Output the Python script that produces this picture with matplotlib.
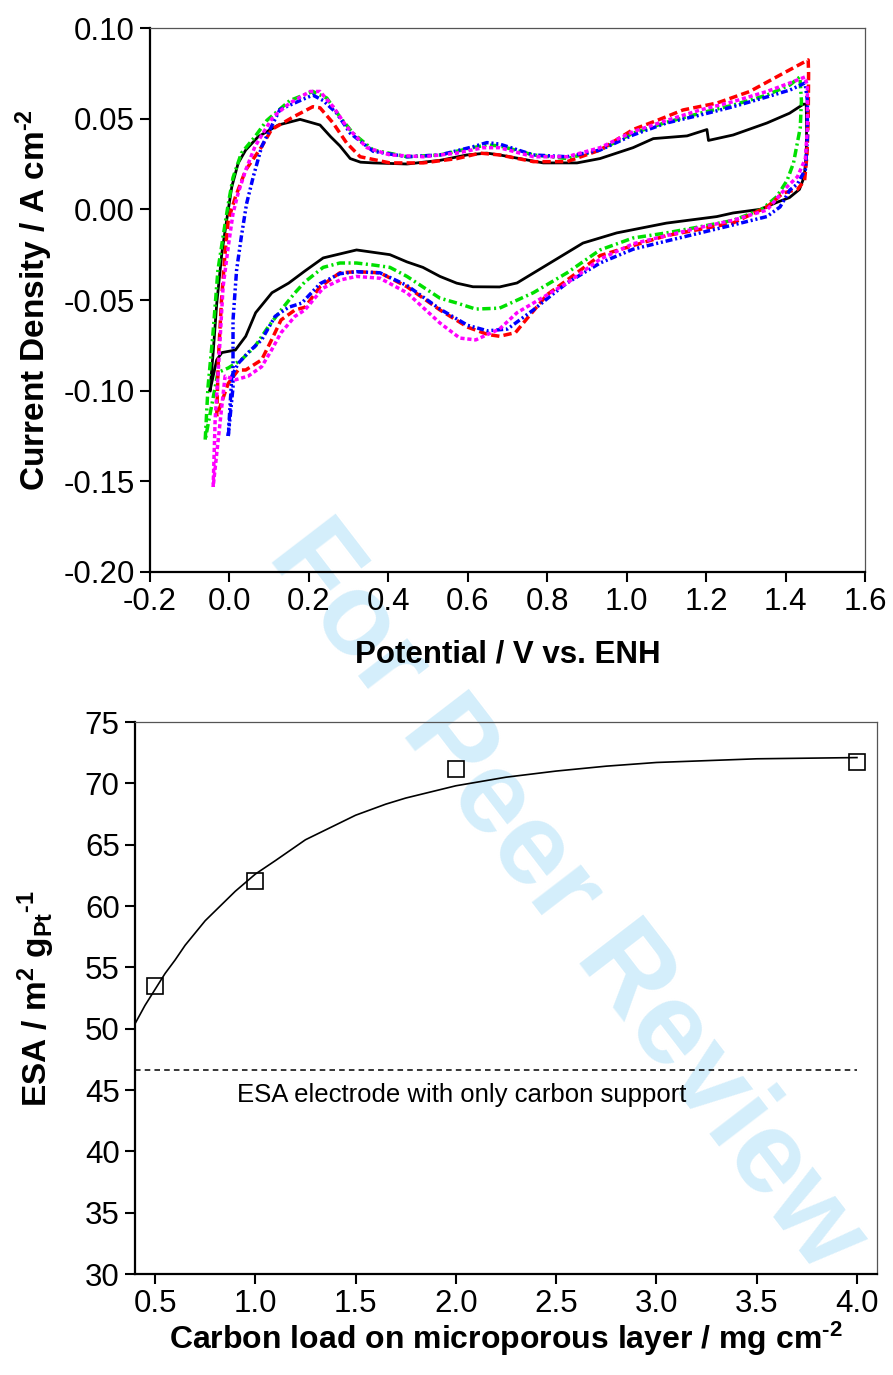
import numpy as np
import matplotlib
matplotlib.use("Agg")
import matplotlib.pyplot as plt

plt.rcParams['font.family'] = ['Liberation Sans', 'DejaVu Sans']
plt.rcParams['mathtext.fontset'] = 'custom'
plt.rcParams['mathtext.rm'] = 'Liberation Sans'
plt.rcParams['mathtext.bf'] = 'Liberation Sans:bold'
plt.rcParams['mathtext.it'] = 'Liberation Sans:italic'
plt.rcParams['lines.scale_dashes'] = False

# ---- CV curves (potential V, current density A cm-2) ----
black_x = [-0.049, -0.041, -0.032, -0.019, -0.007, 0.006, 0.022, 0.041, 0.072, 0.123, 0.178, 0.228, 0.255,
           0.278, 0.304, 0.33, 0.362, 0.447, 0.53, 0.598, 0.648, 0.68, 0.79, 0.875, 0.933, 1.016, 1.067,
           1.152, 1.202, 1.206, 1.268, 1.353, 1.41, 1.445,
           1.452, 1.453, 1.452, 1.447, 1.435, 1.41, 1.38, 1.336, 1.268, 1.227, 1.10, 0.975, 0.89, 0.807,
           0.724, 0.68, 0.613, 0.572, 0.53, 0.487, 0.447, 0.404, 0.32, 0.236, 0.19, 0.149, 0.107, 0.066,
           0.041, 0.015, -0.019, -0.032, -0.049]
black_y = [-0.100, -0.079, -0.052, -0.024, -0.006, 0.0125, 0.0255, 0.0327, 0.040, 0.0465, 0.0496, 0.0465, 0.040,
           0.035, 0.028, 0.026, 0.0256, 0.025, 0.027, 0.030, 0.031, 0.030, 0.0256, 0.0256, 0.028, 0.034, 0.039,
           0.0405, 0.044, 0.038, 0.041, 0.0476, 0.053, 0.058,
           0.058, 0.045, 0.030, 0.018, 0.011, 0.0065, 0.004, 0.0, -0.002, -0.004, -0.0076, -0.013, -0.0186,
           -0.0296, -0.0406, -0.0428, -0.0427, -0.0407, -0.037, -0.032, -0.029, -0.025, -0.0224, -0.0268,
           -0.034, -0.0407, -0.046, -0.057, -0.070, -0.0776, -0.079, -0.083, -0.100]

red_x = [-0.032, -0.028, -0.020, -0.011, -0.003, 0.015, 0.041, 0.081, 0.106, 0.161, 0.21, 0.228, 0.261, 0.295,
         0.329, 0.404, 0.488, 0.573, 0.631, 0.68, 0.765, 0.85, 0.933, 1.016, 1.076, 1.142, 1.227, 1.31, 1.394,
         1.457,
         1.458, 1.457, 1.454, 1.448, 1.43, 1.394, 1.353, 1.268, 1.185, 1.10, 1.016, 0.933, 0.85, 0.80, 0.75,
         0.72, 0.68, 0.65, 0.60, 0.53, 0.447, 0.379, 0.32, 0.278, 0.228, 0.19, 0.165, 0.13, 0.106, 0.081,
         0.041, 0.022, -0.003, -0.032]
red_y = [-0.114, -0.083, -0.050, -0.024, -0.006, 0.0068, 0.0217, 0.0345, 0.044, 0.051, 0.0566, 0.056, 0.0476,
         0.0366, 0.029, 0.0256, 0.0256, 0.028, 0.031, 0.030, 0.0263, 0.0263, 0.0327, 0.044, 0.049, 0.0548,
         0.0586, 0.065, 0.075, 0.0824,
         0.075, 0.050, 0.030, 0.016, 0.011, 0.009, 0.0013, -0.0075, -0.011, -0.0145, -0.020, -0.0255, -0.039,
         -0.047, -0.060, -0.068, -0.070, -0.069, -0.065, -0.0555, -0.0427, -0.035, -0.0344, -0.035, -0.0427,
         -0.054, -0.0555, -0.061, -0.072, -0.083, -0.0886, -0.0886, -0.096, -0.114]

blue_x = [-0.003, 0.009, 0.009, 0.018, 0.03, 0.043, 0.06, 0.081, 0.11, 0.127, 0.178, 0.21, 0.236, 0.27, 0.304,
          0.362, 0.447, 0.53, 0.613, 0.648, 0.68, 0.765, 0.85, 0.933, 1.016, 1.10, 1.185, 1.268, 1.353, 1.411,
          1.449,
          1.455, 1.455, 1.45, 1.43, 1.411, 1.386, 1.353, 1.268, 1.185, 1.10, 1.016, 0.933, 0.85, 0.807, 0.765,
          0.70, 0.65, 0.60, 0.53, 0.447, 0.379, 0.32, 0.278, 0.228, 0.182, 0.149, 0.115, 0.081, 0.047, 0.022,
          0.006, -0.003]
blue_y = [-0.125, -0.098, -0.061, -0.0335, -0.015, 0.003, 0.018, 0.0345, 0.0476, 0.055, 0.060, 0.063, 0.060,
          0.053, 0.042, 0.032, 0.029, 0.030, 0.0345, 0.0368, 0.036, 0.030, 0.029, 0.0327, 0.041, 0.0476, 0.052,
          0.0566, 0.062, 0.0658, 0.0697,
          0.060, 0.040, 0.022, 0.014, 0.0107, 0.0013, -0.004, -0.0086, -0.013, -0.0175, -0.022, -0.0296,
          -0.0406, -0.048, -0.0555, -0.066, -0.067, -0.064, -0.055, -0.042, -0.035, -0.0344, -0.0355, -0.041,
          -0.0517, -0.054, -0.059, -0.072, -0.079, -0.085, -0.092, -0.125]

green_x = [-0.061, -0.054, -0.042, -0.029, -0.016, -0.003, 0.009, 0.03, 0.064, 0.094, 0.152, 0.21, 0.245, 0.278,
           0.311, 0.362, 0.447, 0.53, 0.613, 0.648, 0.68, 0.765, 0.85, 0.933, 1.016, 1.10, 1.185, 1.268, 1.353,
           1.411, 1.436,
           1.44, 1.437, 1.42, 1.404, 1.378, 1.34, 1.268, 1.185, 1.10, 1.016, 0.933, 0.85, 0.765, 0.68, 0.62,
           0.573, 0.53, 0.447, 0.404, 0.362, 0.32, 0.278, 0.236, 0.19, 0.165, 0.13, 0.098, 0.064, 0.03, -0.003,
           -0.029, -0.061]
green_y = [-0.127, -0.098, -0.070, -0.0335, -0.015, 0.003, 0.0175, 0.031, 0.040, 0.049, 0.060, 0.065, 0.0614,
           0.051, 0.042, 0.0327, 0.029, 0.030, 0.034, 0.0355, 0.035, 0.030, 0.028, 0.0327, 0.042, 0.048, 0.053,
           0.0575, 0.063, 0.0686, 0.073,
           0.060, 0.045, 0.0256, 0.016, 0.007, 0.0, -0.0061, -0.0096, -0.013, -0.0158, -0.0224, -0.035, -0.046,
           -0.0545, -0.055, -0.0517, -0.049, -0.037, -0.032, -0.0307, -0.0296, -0.0296, -0.032, -0.040, -0.046,
           -0.0555, -0.0647, -0.0757, -0.083, -0.0875, -0.090, -0.127]

mag_x = [-0.041, -0.036, -0.028, -0.016, -0.003, 0.009, 0.022, 0.041, 0.064, 0.09, 0.11, 0.152, 0.203, 0.228,
         0.261, 0.295, 0.346, 0.404, 0.488, 0.573, 0.638, 0.68, 0.765, 0.85, 0.933, 1.016, 1.10, 1.185, 1.268,
         1.353, 1.411, 1.449,
         1.455, 1.455, 1.45, 1.43, 1.404, 1.353, 1.268, 1.185, 1.10, 1.016, 0.933, 0.85, 0.765, 0.724, 0.68,
         0.62, 0.58, 0.53, 0.447, 0.379, 0.32, 0.278, 0.236, 0.19, 0.165, 0.13, 0.106, 0.081, 0.047, 0.015,
         -0.011, -0.041]
mag_y = [-0.153, -0.116, -0.0886, -0.0427, -0.0206, -0.0023, 0.009, 0.0217, 0.0345, 0.044, 0.051, 0.0586, 0.065,
         0.065, 0.0566, 0.0456, 0.034, 0.030, 0.029, 0.031, 0.034, 0.034, 0.029, 0.029, 0.034, 0.0428, 0.049,
         0.0548, 0.0594, 0.065, 0.0697, 0.073,
         0.068, 0.045, 0.028, 0.018, 0.0125, -0.0004, -0.006, -0.010, -0.0145, -0.019, -0.0275, -0.0406,
         -0.0517, -0.057, -0.066, -0.072, -0.071, -0.0627, -0.046, -0.038, -0.037, -0.039, -0.0434, -0.0555,
         -0.059, -0.068, -0.0776, -0.0868, -0.092, -0.094, -0.092, -0.153]

# ---- ESA vs carbon load ----
load = [0.5, 1.0, 2.0, 4.0]
esa = [53.5, 62.0, 71.2, 71.7]
fit_x = [0.4, 0.45, 0.5, 0.55, 0.6, 0.65, 0.7, 0.75, 0.8, 0.9, 1.0, 1.1, 1.25, 1.4, 1.5, 1.65, 1.75, 2.0,
         2.25, 2.5, 2.75, 3.0, 3.25, 3.5, 3.75, 4.0]
fit_y = [50.4, 51.9, 53.2, 54.5, 55.6, 56.8, 57.8, 58.8, 59.6, 61.2, 62.6, 63.7, 65.4, 66.6, 67.4, 68.3, 68.8,
         69.8, 70.5, 71.0, 71.4, 71.7, 71.85, 72.0, 72.05, 72.1]
carbon_only = 46.6

HY = '\u2010'  # hyphen used for the exponent signs

fig = plt.figure(figsize=(8.93, 13.75), dpi=100)

def style_axes(ax):
    ax.set_facecolor('none')
    for s in ['left', 'bottom']:
        ax.spines[s].set_linewidth(1.6)
        ax.spines[s].set_color('black')
    for s in ['top', 'right']:
        ax.spines[s].set_linewidth(0.9)
        ax.spines[s].set_color('#555555')
    ax.tick_params(direction='out', length=7, width=1.5, labelsize=22.5, pad=4,
                   top=False, right=False)

ax1 = fig.add_axes([150/893, 1-572/1375, 715/893, 544/1375])
style_axes(ax1)
ax1.plot(black_x, black_y, color='black', lw=2.0, zorder=3)
ax1.plot(green_x, green_y, color='#00e000', lw=2.5, dashes=(6, 2.5, 1.5, 2.5), zorder=3)
ax1.plot(red_x, red_y, color='#ff0000', lw=2.5, dashes=(6, 3), zorder=3)
ax1.plot(blue_x, blue_y, color='#0000ff', lw=2.5, dashes=(5, 2, 1.5, 2, 1.5, 2), zorder=3)
ax1.plot(mag_x, mag_y, color='#ff00ff', lw=2.5, dashes=(3, 2), zorder=3)
ax1.set_xlim(-0.2, 1.6)
ax1.set_ylim(-0.20, 0.10)
ax1.set_xticks(np.arange(-0.2, 1.61, 0.2))
ax1.set_xticklabels(['-0.2', '0.0', '0.2', '0.4', '0.6', '0.8', '1.0', '1.2', '1.4', '1.6'])
ax1.set_yticks(np.arange(-0.20, 0.101, 0.05))
ax1.set_yticklabels(['-0.20', '-0.15', '-0.10', '-0.05', '0.00', '0.05', '0.10'])
ax1.set_xlabel('Potential / V vs. ENH', fontsize=22.5, fontweight='bold', labelpad=16)
ax1.set_ylabel(r'Current Density / A cm$^{\mathbf{' + HY + '2}}$', fontsize=24, fontweight='bold',
               labelpad=6)

ax2 = fig.add_axes([135/893, 1-1274/1375, 742/893, 552/1375])
style_axes(ax2)
ax2.plot(fit_x, fit_y, color='black', lw=1.2, zorder=3)
ax2.plot(load, esa, 's', ms=11, mfc='none', mec='black', mew=1.2, zorder=4)
ax2.plot([0.4, 4.0], [carbon_only, carbon_only], color='black', lw=1.1, dashes=(4, 3), zorder=3)
ax2.text(0.908, 44.6, 'ESA electrode with only carbon support', fontsize=18.5, va='center', ha='left')
ax2.set_xlim(0.4, 4.1)
ax2.set_ylim(30, 75)
ax2.set_xticks(np.arange(0.5, 4.01, 0.5))
ax2.set_xticklabels(['0.5', '1.0', '1.5', '2.0', '2.5', '3.0', '3.5', '4.0'])
ax2.set_yticks(np.arange(30, 76, 5))
ax2.set_xlabel(r'Carbon load on microporous layer / mg cm$^{\mathbf{' + HY + '2}}$', fontsize=23,
               fontweight='bold', labelpad=0)
ax2.set_ylabel(r'ESA / m$^{\mathbf{2}}$ g$_{\mathbf{Pt}}$$^{\mathbf{' + HY + '1}}$', fontsize=24,
               fontweight='bold', labelpad=20)

# watermark
fig.text(566/893, 1-898/1375, 'For Peer Review', fontsize=84, fontweight='bold',
         color='#d4eefb', rotation=-52.5, ha='center', va='center', zorder=-1,
         rotation_mode='anchor')

fig.savefig('out.png', dpi=100)
